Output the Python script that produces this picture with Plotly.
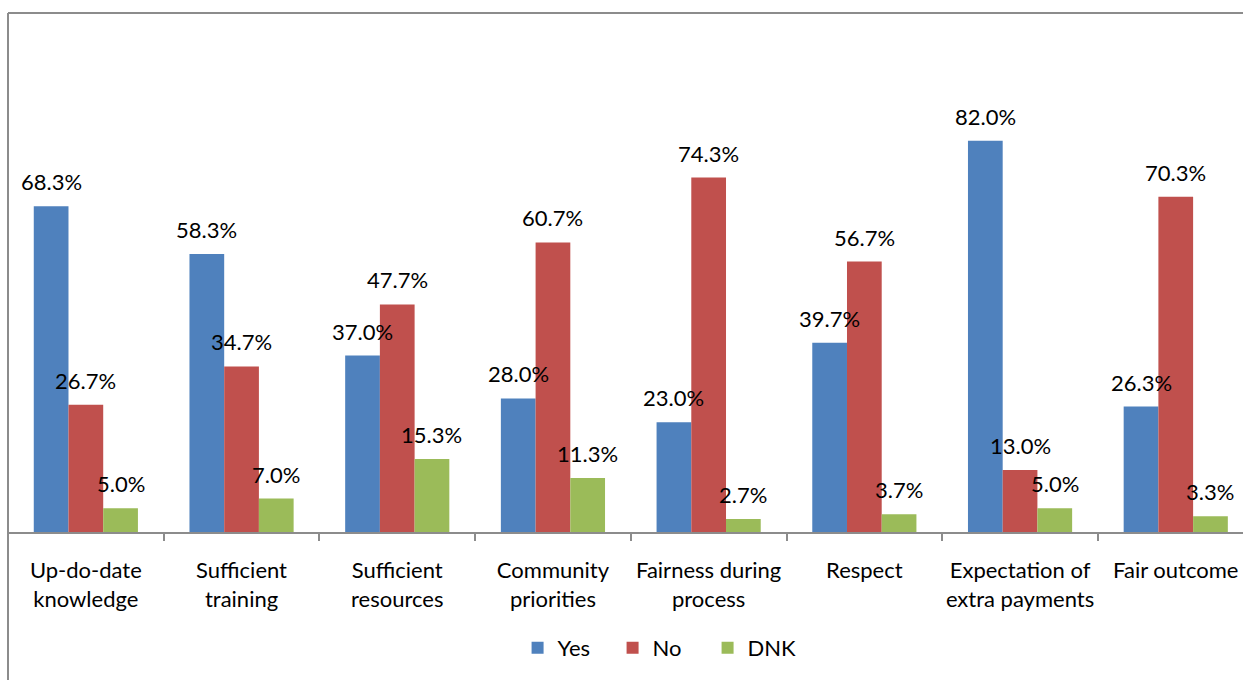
import plotly.graph_objects as go

# Survey questions (two-line tick labels)
categories = [
    "Up-do-date<br>knowledge",
    "Sufficient<br>training",
    "Sufficient<br>resources",
    "Community<br>priorities",
    "Fairness during<br>process",
    "Respect",
    "Expectation of<br>extra payments",
    "Fair outcome",
]

# Share of responses per answer (%)
yes_vals = [68.3, 58.3, 37.0, 28.0, 23.0, 39.7, 82.0, 26.3]
no_vals = [26.7, 34.7, 47.7, 60.7, 74.3, 56.7, 13.0, 70.3]
dnk_vals = [5.0, 7.0, 15.3, 11.3, 2.7, 3.7, 5.0, 3.3]

series = [
    ("Yes", yes_vals, "#4F81BD"),
    ("No", no_vals, "#C0504D"),
    ("DNK", dnk_vals, "#9BBB59"),
]

FONT = "Lato, 'Open Sans', sans-serif"
BARGAP = 0.331
bar_w = (1 - BARGAP) / len(series)

fig = go.Figure()
annotations = []
for k, (name, vals, color) in enumerate(series):
    fig.add_trace(go.Bar(
        name=name,
        x=categories,
        y=vals,
        marker=dict(color=color, line=dict(width=0)),
    ))
    offset = (k - 1) * bar_w
    for i, v in enumerate(vals):
        annotations.append(dict(
            x=i + offset, y=v, xref="x", yref="y",
            text=f"{v:.1f}%", showarrow=False,
            yanchor="bottom", xanchor="center", yshift=9,
            font=dict(family=FONT, size=22, color="#000000"),
        ))

# Chart-area frame (left and top edges)
shapes = [
    dict(type="line", xref="paper", yref="paper", x0=0, x1=0, y0=1.088, y1=-0.32,
         line=dict(color="#8c8c8c", width=2)),
    dict(type="line", xref="paper", yref="paper", x0=0, x1=1.01, y0=1.088, y1=1.088,
         line=dict(color="#8c8c8c", width=2)),
]

fig.update_layout(
    width=1243, height=680,
    margin=dict(l=8, r=0, t=55, b=148, autoexpand=False),
    paper_bgcolor="white", plot_bgcolor="white",
    barmode="group", bargap=BARGAP, bargroupgap=0,
    annotations=annotations,
    shapes=shapes,
    showlegend=True,
    legend=dict(
        orientation="h", x=0.528, xanchor="center", y=-0.243, yanchor="middle",
        font=dict(family=FONT, size=22, color="#000000"),
        entrywidth=50, itemwidth=30, traceorder="normal",
    ),
    font=dict(family=FONT),
)

fig.update_xaxes(
    type="category",
    range=[-0.5, -0.5 + 1235 / 155.7],
    showline=True, linecolor="#8c8c8c", linewidth=1.5,
    ticks="outside", tickson="boundaries", ticklen=7,
    tickcolor="#8c8c8c", tickwidth=1.5,
    showgrid=False, zeroline=False,
    tickangle=0, automargin=False,
    tickfont=dict(family=FONT, size=22, color="#000000"),
    ticklabelstandoff=18,
)
fig.update_yaxes(range=[0, 100], visible=False, showgrid=False, zeroline=False)

fig.write_html("out.html")
